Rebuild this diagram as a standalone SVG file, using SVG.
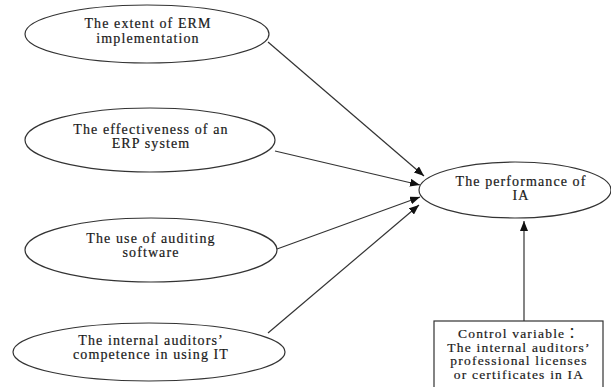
<svg xmlns="http://www.w3.org/2000/svg" width="611" height="387" viewBox="0 0 611 387">
<style>
.n{fill:#fff;stroke:#333;stroke-width:1.2}
.t{font-family:"Liberation Serif","Times New Roman",serif;font-size:14px;letter-spacing:1.1px;fill:#1a1a1a;stroke:#1a1a1a;stroke-width:0.2;text-anchor:middle}
.c{font-family:"Liberation Serif","Times New Roman","Noto Sans CJK TC",serif;font-size:13.5px;letter-spacing:1.2px;fill:#1a1a1a;stroke:#1a1a1a;stroke-width:0.2;text-anchor:middle}
.e{stroke:#333;stroke-width:1.2;fill:none;marker-end:url(#ah)}
</style>
<defs>
<marker id="ah" viewBox="0 0 10 8" refX="10" refY="4" markerWidth="10" markerHeight="8" markerUnits="userSpaceOnUse" orient="auto">
<path d="M0,0 L10,4 L0,8 z" fill="#111"/>
</marker>
</defs>
<rect width="611" height="387" fill="#fff"/>
<g id="connectors">
<line class="e" x1="268" y1="42" x2="424" y2="176"/>
<line class="e" x1="275" y1="151" x2="420" y2="185"/>
<line class="e" x1="277" y1="249" x2="420" y2="197"/>
<line class="e" x1="268" y1="333" x2="419" y2="205"/>
<line class="e" x1="524" y1="321" x2="524" y2="221"/>
</g>
<g id="n1">
<ellipse class="n" cx="147" cy="34" rx="122" ry="29"/>
<text class="t" x="148" y="28">The extent of ERM</text>
<text class="t" x="148" y="43">implementation</text>
</g>
<g id="n2">
<ellipse class="n" cx="150" cy="140" rx="125" ry="32"/>
<text class="t" x="151" y="134">The effectiveness of an</text>
<text class="t" x="151" y="148">ERP system</text>
</g>
<g id="n3">
<ellipse class="n" cx="151" cy="250" rx="126" ry="32"/>
<text class="t" x="151" y="243">The use of auditing</text>
<text class="t" x="151" y="257">software</text>
</g>
<g id="n4">
<ellipse class="n" cx="149" cy="352" rx="136" ry="29"/>
<text class="t" x="151" y="345">The internal auditors’</text>
<text class="t" x="151" y="359">competence in using IT</text>
</g>
<g id="target">
<ellipse class="n" cx="515" cy="190" rx="96" ry="28"/>
<text class="t" x="521" y="186">The performance of</text>
<text class="t" x="521" y="200">IA</text>
</g>
<g id="control">
<rect class="n" x="434" y="321" width="169" height="70"/>
<text class="c" x="519" y="338">Control variable：</text>
<text class="c" x="519" y="351.5">The internal auditors’</text>
<text class="c" x="519" y="365">professional licenses</text>
<text class="c" x="519" y="378.5">or certificates in IA</text>
</g>
</svg>
